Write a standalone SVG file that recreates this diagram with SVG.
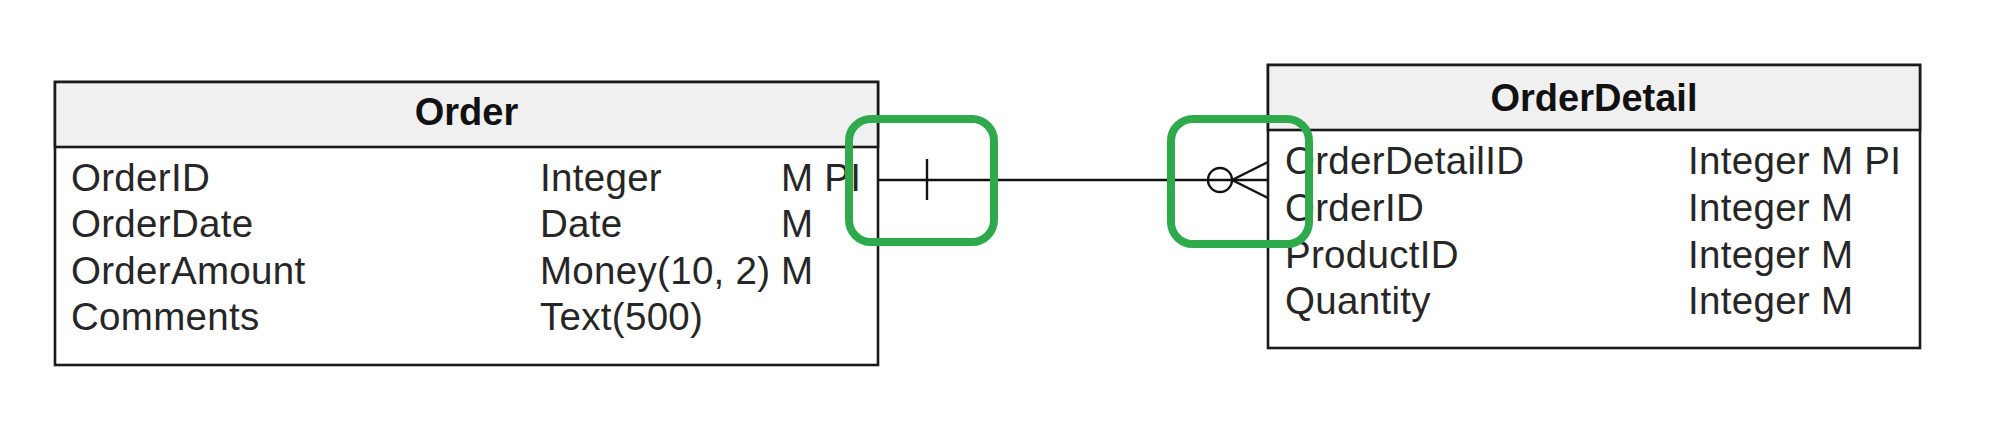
<svg xmlns="http://www.w3.org/2000/svg" width="2000" height="423" viewBox="0 0 2000 423">
<style>
.box{fill:#ffffff;stroke:#1a1a1a;stroke-width:2.6}
.hdr{fill:#f0f0f0;stroke:#1a1a1a;stroke-width:2.6}
.t{font-family:"Liberation Sans",Arial,sans-serif;font-size:38.5px;letter-spacing:0.3px;fill:#262626}
.h{font-family:"Liberation Sans",Arial,sans-serif;font-size:38px;font-weight:bold;fill:#111111;text-anchor:middle}
.ln{stroke:#111111;stroke-width:2.4;fill:none}
.hl{fill:none;stroke:#2eaa4c;stroke-width:8}
</style>
<rect width="2000" height="423" fill="#ffffff"/>
<g id="connectors">
<line class="ln" x1="878" y1="180" x2="1268" y2="180"/>
<line class="ln" x1="927" y1="159" x2="927" y2="200"/>
<circle class="ln" cx="1220" cy="180" r="12" fill="#ffffff"/>
<line class="ln" x1="1232" y1="180" x2="1268" y2="162"/>
<line class="ln" x1="1232" y1="180" x2="1268" y2="198"/>
</g>
<g id="node-order">
<rect class="box" x="55" y="82" width="823" height="283"/>
<rect class="hdr" x="55" y="82" width="823" height="65"/>
<text class="h" x="466.5" y="125">Order</text>
<text class="t" x="71" y="191">OrderID</text>
<text class="t" x="71" y="237">OrderDate</text>
<text class="t" x="71" y="284">OrderAmount</text>
<text class="t" x="71" y="330">Comments</text>
<text class="t" x="540" y="191">Integer</text>
<text class="t" x="540" y="237">Date</text>
<text class="t" x="540" y="284">Money(10, 2)</text>
<text class="t" x="540" y="330">Text(500)</text>
<text class="t" x="781" y="191">M PI</text>
<text class="t" x="781" y="237">M</text>
<text class="t" x="781" y="284">M</text>
</g>
<g id="node-orderdetail">
<rect class="box" x="1268" y="65" width="652" height="283"/>
<rect class="hdr" x="1268" y="65" width="652" height="65"/>
<text class="h" x="1594" y="111">OrderDetail</text>
<text class="t" x="1285" y="174">OrderDetailID</text>
<text class="t" x="1285" y="221">OrderID</text>
<text class="t" x="1285" y="268">ProductID</text>
<text class="t" x="1285" y="314">Quantity</text>
<text class="t" x="1688" y="174">Integer M PI</text>
<text class="t" x="1688" y="221">Integer M</text>
<text class="t" x="1688" y="268">Integer M</text>
<text class="t" x="1688" y="314">Integer M</text>
</g>
<g id="highlights">
<rect class="hl" x="849" y="119" width="145" height="123" rx="22"/>
<rect class="hl" x="1171" y="119" width="138" height="125" rx="22"/>
</g>
</svg>
